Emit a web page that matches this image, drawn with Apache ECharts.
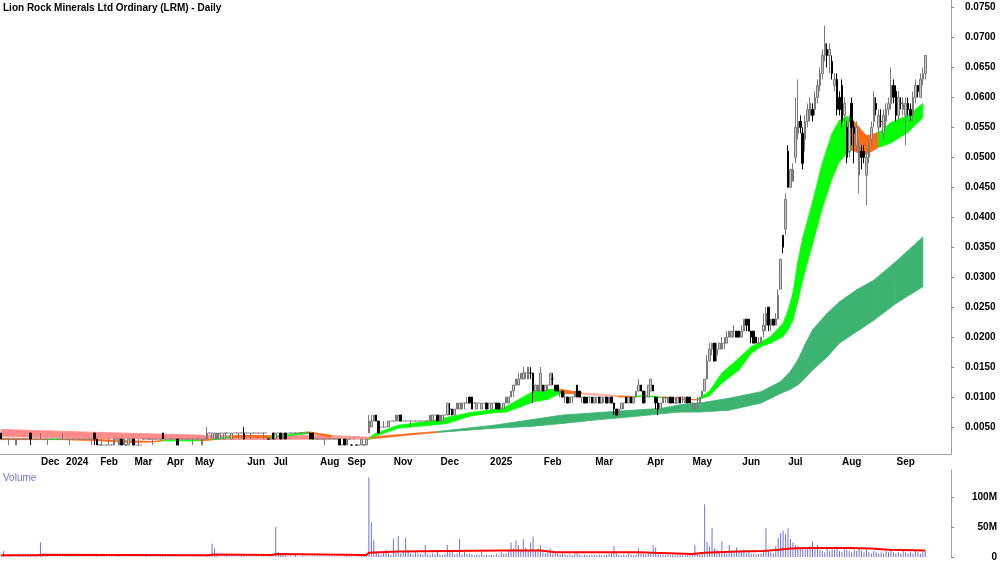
<!DOCTYPE html>
<html>
<head>
<meta charset="utf-8">
<script src="https://cdn.jsdelivr.net/npm/echarts@6/dist/echarts.min.js"></script>
<style>
html, body { margin: 0; padding: 0; background: #fff; }
#chart { width: 1000px; height: 562px; }
</style>
</head>
<body>
<div id="chart"></div>
<script>
// month labels and the candle index where each month starts
var monthLabels = ['Dec', '2024', 'Feb', 'Mar', 'Apr', 'May', 'Jun', 'Jul', 'Aug', 'Sep',
                   'Nov', 'Dec', '2025', 'Feb', 'Mar', 'Apr', 'May', 'Jun', 'Jul', 'Aug', 'Sep'];
var monthStarts = [20, 31, 44, 58, 71, 83, 104, 114, 134, 145, 164, 183, 204, 225, 246, 267, 286, 306, 324, 347, 369];
var emptySlots = 10;

var priceTicks = [0.005, 0.010, 0.015, 0.020, 0.025, 0.030, 0.035, 0.040, 0.045, 0.050, 0.055, 0.060, 0.065, 0.070, 0.075];
var volumeTicks = [0, 50e6, 100e6];

// daily prices in tenths of a cent
var openP = [
  4,3,3,3,3,3,2,3,3,3, 3,3,4,3,3,3,3,3,3,3, 3,3,3,3,3,3,3,3,3,3, 3,3,3,3,3,3,3,3,4,3,
  2,2,2,2,2,2,2,3,2,3, 2,2,2,3,3,2,2,2,3,3, 3,3,3,3,3,3,4,3,3,3, 3,3,3,3,3,3,3,3,3,3,
  3,3,2,3,3,4,4,3,3,3, 4,3,4,4,3,4,4,4,4,4, 4,4,4,4,4,4,4,4,4,3, 3,4,3,4,4,3,4,4,4,4,
  4,4,4,4,4,4,4,4,3,3, 3,3,3,3,3,3,3,3,3,2, 3,2,3,2,3,2,2,2,2,2,
  4,5,6,7,6,5,5,5,5,6, 6,6,6,7,6,6,6,6,6,6, 6,6,6,6,6,6,6,7,7,6, 6,7,7,8,8,7,8,8,8,9,
  9,10,10,9,8,9,8,9,9,9, 8,9,9,9,8,8,9,9,10,11, 12,12,13,13,14,13,14,14,11,11,
  11,12,11,12,12,13,12,12,11,11, 10,10,9,10,10,12,11,10,10,10, 10,10,9,10,10,9,10,10,9,10,
  9,8,7,8,9,10,9,10,9,10, 11,12,11,10,10,11,12,10,9,8, 9,10,9,10,10,9,9,10,10,9,
  10,10,9,8,9,9,10,11,13,16, 18,19,17,18,18,19,19,20,20,21, 21,21,20,21,23,23,21,21,20,19,
  19,21,22,25,22,23,22,23,28,37, 38,51,45,46,50,54,56,54,53,56, 57,58,58,60,62,64,67,68,67,66,
  62,63,60,62,57,55,51,59,55,52, 47,51,51,47,50,53,56,59,55,56, 54,56,58,59,62,61,57,59,58,57,
  59,58,57,60,62,60,63,64
];
var closeP = [
  3,3,3,3,3,3,3,3,3,3, 3,3,3,3,3,3,3,3,3,3, 3,3,3,3,3,3,3,3,3,3, 3,3,3,3,3,3,3,3,3,2,
  2,2,2,2,2,2,3,3,3,2, 3,2,3,3,2,2,2,2,3,3, 3,3,3,3,3,3,3,3,3,3, 3,3,2,3,3,3,3,3,3,3,
  3,3,3,3,4,4,4,4,4,4, 4,4,4,4,4,4,4,4,4,3, 4,4,4,4,4,4,4,4,4,3, 3,3,4,4,3,4,3,4,4,4,
  4,4,4,4,4,4,3,3,3,3, 3,3,3,3,3,3,3,3,2,2, 2,3,3,2,3,2,2,3,2,3,
  6,6,7,6,4,5,5,5,6,6, 6,7,7,6,6,6,6,6,6,6, 6,6,6,6,6,7,7,7,6,7, 7,7,9,8,7,8,9,9,9,9,
  9,9,8,9,9,9,9,9,8,9, 9,9,8,8,8,9,10,10,11,12, 13,13,14,14,14,15,14,11,12,12,
  14,11,12,12,14,13,11,11,11,10, 10,9,10,10,11,10,10,10,9,9, 10,9,10,10,9,10,10,9,10,9,
  8,7,8,9,9,9,10,9,10,11, 12,11,9,10,12,13,11,9,8,9, 10,10,10,9,9,9,10,9,10,10,
  9,9,9,9,9,10,11,13,16,18, 19,16,18,19,19,19,20,21,21,21, 20,20,21,23,22,21,20,19,19,19,
  20,22,24,22,23,22,23,27,33,35, 43,45,48,48,55,56,55,49,56,58, 59,57,60,62,64,67,69,67,68,64,
  63,58,58,56,59,50,56,55,54,55, 52,50,50,50,52,55,60,58,57,56, 57,58,59,62,60,57,60,59,59,59,
  58,57,60,62,61,63,64,67
];
var lowP = [
  3,3,3,2,3,3,2,3,3,3, 3,3,2,3,3,3,3,3,3,2, 3,3,3,3,3,3,3,3,2,3, 3,3,3,3,3,3,3,2,2,2,
  2,2,2,2,2,2,2,3,2,2, 2,2,2,3,2,2,2,2,3,3, 3,3,2,3,3,3,3,3,3,3, 3,3,2,3,3,3,3,3,2,3,
  3,3,2,3,3,4,3,3,3,3, 4,3,4,4,3,4,4,3,4,3, 4,4,3,4,4,4,4,3,4,3, 3,3,3,4,3,3,3,4,4,4,
  4,4,4,4,4,4,3,3,3,3, 3,3,2,3,3,3,3,3,2,2, 2,2,3,2,3,2,2,2,2,2,
  4,5,6,6,4,5,5,5,5,6, 6,6,6,6,6,6,6,5,6,6, 6,6,6,6,6,6,6,7,6,6, 6,7,7,7,7,7,8,8,8,8,
  9,9,8,9,8,9,8,9,8,8, 8,9,8,8,8,8,9,9,10,10, 12,12,13,13,13,13,13,9,11,11,
  11,11,11,11,12,12,11,11,10,10, 9,9,9,9,10,10,10,9,9,9, 9,9,9,9,9,9,9,9,9,9,
  7,7,7,8,8,9,9,9,9,10, 11,11,9,9,10,11,11,8,7,8, 9,9,9,9,9,9,9,9,9,9,
  9,9,8,8,8,9,10,11,13,16, 17,16,16,18,18,18,19,20,20,20, 20,20,20,21,21,21,19,19,19,19,
  19,20,21,21,21,22,22,23,28,34, 37,45,45,46,49,53,54,48,51,55, 56,56,57,59,61,63,66,65,64,63,
  61,57,57,55,56,49,50,52,49,51, 44,48,49,42,49,52,55,57,54,55, 53,55,57,58,59,56,56,58,57,52,
  57,56,56,59,60,60,62,63
];
var highP = [
  4,3,3,3,3,3,3,3,3,3, 3,3,4,3,3,3,4,3,3,3, 3,3,3,3,3,4,3,3,3,3, 3,3,3,3,3,3,3,3,4,3,
  2,3,2,2,3,2,3,3,3,3, 3,2,3,3,3,2,3,2,3,3, 3,3,3,3,3,3,4,3,3,3, 3,3,3,3,3,3,3,3,3,3,
  3,3,3,3,5,4,4,4,4,4, 4,4,4,4,4,4,4,4,4,5, 4,4,4,4,4,4,4,4,4,3, 3,4,4,4,4,4,4,4,4,4,
  4,4,4,4,4,4,4,4,3,3, 3,3,3,3,3,3,3,3,3,2, 3,3,3,2,3,2,2,3,2,3,
  7,7,7,7,6,5,6,5,6,6, 6,7,7,7,6,6,6,6,6,6, 6,6,6,6,6,7,7,7,7,7, 7,7,9,9,8,8,9,9,9,9,
  10,10,10,9,9,9,9,9,9,9, 9,9,9,9,9,9,10,10,11,12, 13,14,14,15,14,15,15,14,12,12,
  15,12,12,12,14,14,12,12,11,11, 11,10,10,10,11,12,11,10,10,10, 10,10,10,10,10,10,10,10,10,10,
  9,8,8,9,9,10,10,10,10,11, 13,12,11,11,12,13,12,10,10,9, 10,10,10,10,10,10,10,10,10,10,
  10,10,9,9,10,10,11,13,17,19, 19,19,19,19,20,20,21,21,21,22, 21,21,22,23,23,23,21,21,20,20,
  20,24,25,25,23,23,24,28,33,37, 44,52,48,49,60,63,57,55,57,59, 60,59,61,63,65,68,72,69,69,67,
  64,64,61,63,60,56,57,60,56,56, 53,52,52,51,53,56,61,60,58,58, 58,59,60,65,63,62,61,60,60,60,
  60,59,61,63,62,64,65,67
];

// daily volume, millions of shares
var volume = [
  2,10,1,1,2,1,1,2,1,1, 1,1,2,1,1,1,24,2,1,1, 1,1,1,1,1,1,1,1,1,1, 1,1,1,1,1,1,1,1,1,2,
  1,1,1,1,1,1,1,1,2,1, 1,1,1,1,1,1,1,1,1,3, 1,1,1,1,1,1,2,1,1,1, 1,1,1,1,1,1,1,1,1,1,
  1,1,1,1,2,1,22,14,6,1, 1,1,2,1,1,1,1,1,2,3, 1,1,1,1,1,1,1,1,1,1, 1,1,50,8,3,6,2,1,1,1,
  4,1,1,2,1,1,1,1,1,1, 1,1,1,1,1,1,1,1,1,1, 1,2,1,1,1,1,1,4,2,6,
  133,58,28,10,6,4,8,12,6,4, 30,8,35,6,8,32,12,6,4,8, 6,5,4,20,4,4,6,4,8,4, 3,5,20,8,12,4,6,30,4,8,
  5,6,4,3,4,3,8,3,4,3, 4,3,6,3,8,5,6,10,24,14, 28,20,12,30,16,12,24,34,10,14,
  20,8,6,8,14,6,8,5,4,6, 4,3,4,3,6,10,4,3,4,3, 3,4,3,3,4,3,3,4,5,8,
  18,6,4,3,4,3,6,4,3,4, 14,6,5,4,6,8,20,16,6,4, 4,3,4,3,4,3,3,4,3,3,
  3,4,3,20,6,4,8,88,25,18, 48,14,12,10,26,8,6,20,10,8, 16,10,8,12,6,8,5,6,4,5,
  6,8,48,10,8,6,18,32,40,44, 38,48,30,24,20,18,14,16,12,14, 18,26,14,20,12,10,8,14,10,12,
  12,18,10,8,14,12,10,8,12,10, 14,10,8,12,8,6,10,8,6,8, 6,10,8,12,8,6,8,6,10,8,
  6,8,6,10,8,6,8,10
];

// volume average line: [candle index, millions]
var volumeAvg = [
  [0, 3], [15, 3], [16, 3.8], [85, 3], [86, 4], [111, 3.5], [112, 5], [149, 3.5], [150, 7],
  [162, 9], [183, 10], [204, 11], [220, 11], [226, 8], [260, 8], [266, 7], [282, 5], [287, 7],
  [300, 9], [311, 10], [317, 12], [322, 14], [330, 15], [345, 15], [355, 14], [362, 12], [377, 11]
];

// trend ribbons: [candle index, upper, lower (tenths of a cent), trend 1 up / -1 down / 0 weak]
var shortRibbon = [
  [0, 3.1, 2.9, -1], [12, 3.0, 2.9, -1], [19, 3.0, 2.9, 1], [24, 3.0, 2.9, -1], [40, 2.9, 2.7, -1],
  [53, 2.7, 2.4, -1], [62, 2.6, 2.5, -1], [66, 2.8, 2.7, 1], [81, 2.8, 2.7, -1], [86, 2.95, 2.85, 1],
  [93, 3.4, 3.2, -1], [96, 3.6, 3.3, -1], [102, 3.6, 3.3, -1], [110, 3.5, 3.2, 1], [113, 3.55, 3.45, 1],
  [118, 3.8, 3.6, 1], [125, 4.2, 3.9, -1], [127, 4.1, 3.9, -1], [135, 3.6, 3.3, 0], [142, 3.2, 3.0, 0],
  [150, 3.0, 2.9, 1], [152, 3.8, 3.4, 1], [162, 5.3, 4.8, 1], [175, 6.0, 5.3, 1], [182, 6.6, 5.6, 1],
  [191, 7.4, 6.8, 1], [199, 7.8, 7.3, 1], [206, 8.4, 7.5, 1], [212, 9.8, 8.4, 1], [217, 10.9, 9.2, 1],
  [223, 11.3, 9.6, 1], [228, 11.3, 10.6, -1], [237, 10.7, 10.5, 0], [244, 10.5, 10.3, 0], [252, 10.2, 10.0, -1],
  [258, 10.1, 10.0, 1], [262, 10.3, 10.2, 1], [269, 10.0, 9.9, -1], [277, 9.7, 9.6, -1], [284, 9.6, 9.5, 1],
  [289, 11.0, 10.2, 1], [294, 14.0, 12.3, 1], [301, 16.5, 14.5, 1], [306, 18.4, 17.3, 1], [310, 19.2, 18.4, 1],
  [314, 20.1, 19.0, 1], [319, 22.3, 20.1, 1], [321, 24.4, 21.2, 1], [323, 27.3, 22.8, 1], [325, 32.5, 26.0, 1],
  [327, 36.5, 29.5, 1], [331, 42.5, 35.5, 1], [335, 49.0, 41.5, 1], [339, 54.0, 46.5, 1], [342, 56.2, 49.3, 1],
  [345, 56.8, 50.6, 1], [347, 56.5, 51.2, -1], [350, 55.0, 50.7, -1], [353, 53.6, 50.5, -1], [356, 53.9, 51.2, -1],
  [358, 54.2, 51.7, 1], [359, 54.4, 51.8, 1], [363, 55.8, 52.4, 1], [370, 57.0, 54.2, 1], [376, 59.0, 56.6, 1]
];
var longRibbon = [
  [0, 4.6, 3.4, 0], [40, 4.1, 3.1, 0], [86, 3.6, 2.9, 0], [136, 3.55, 3.0, 0], [150, 3.3, 3.0, -1],
  [170, 4.0, 3.8, -1], [178, 4.25, 4.1, 1], [201, 5.3, 4.8, 1], [216, 6.2, 5.1, 1], [229, 7.0, 5.6, 1],
  [243, 7.4, 6.2, 1], [257, 7.8, 6.7, 1], [269, 8.1, 7.2, 1], [277, 8.7, 7.5, 1], [285, 9.0, 7.5, 1],
  [297, 9.8, 7.8, 1], [310, 10.9, 9.0, 1], [318, 12.6, 10.6, 1], [322, 14.3, 11.3, 1], [325, 16.2, 12.0, 1],
  [328, 18.8, 13.2, 1], [331, 21.2, 14.5, 1], [337, 24.0, 16.7, 1], [342, 25.9, 19.0, 1], [349, 27.9, 20.9, 1],
  [356, 29.5, 22.8, 1], [365, 32.6, 25.6, 1], [376, 36.7, 28.4, 1]
];

var n = openP.length;
var cats = [];
for (var i = 0; i < n + emptySlots; i++) cats.push(String(i));
var labelAt = {};
monthStarts.forEach(function (s, k) { labelAt[s] = monthLabels[k]; });
var isMonthStart = function (index) { return labelAt[index] !== undefined; };

var candles = [];
for (var i = 0; i < n; i++) {
  candles.push([openP[i] / 1000, closeP[i] / 1000, lowP[i] / 1000, highP[i] / 1000]);
}

var ribbonPieces = function (rows) {
  var res = [];
  for (var k = 0; k < rows.length - 1; k++) {
    var a = rows[k], b = rows[k + 1];
    res.push([a[0], a[1] / 1000, a[2] / 1000, b[0], b[1] / 1000, b[2] / 1000, a[3]]);
  }
  return res;
};

var ribbonRenderer = function (colors) {
  return function (params, api) {
    var p1 = api.coord([api.value(0), api.value(1)]);
    var p2 = api.coord([api.value(3), api.value(4)]);
    var p3 = api.coord([api.value(3), api.value(5)]);
    var p4 = api.coord([api.value(0), api.value(2)]);
    var col = colors[api.value(6)];
    return {
      type: 'polygon',
      shape: { points: [p1, p2, p3, p4] },
      style: { fill: col, stroke: col, lineWidth: 0.8 }
    };
  };
};

var font = 'Liberation Sans, Arial, sans-serif';
var chart = echarts.init(document.getElementById('chart'));

var option = {
  animation: false,
  textStyle: { fontFamily: font },
  title: {
    text: 'Lion Rock Minerals Ltd Ordinary (LRM) - Daily',
    left: 3, top: 3, padding: 0,
    textStyle: { fontSize: 10, fontWeight: 'bold', color: '#000', fontFamily: font }
  },
  graphic: [{
    type: 'text', left: 3, top: 473,
    style: { text: 'Volume', fill: '#7373c8', font: '10px ' + font }
  }],
  grid: [
    { left: 0, right: 49, top: 0, height: 454 },
    { left: 0, right: 49, top: 470, height: 87 }
  ],
  xAxis: [{
    type: 'category', gridIndex: 0, data: cats, boundaryGap: true,
    axisLine: { lineStyle: { color: '#a0a0a0' } },
    axisTick: { interval: isMonthStart, alignWithLabel: true, length: 3, lineStyle: { color: '#808080' } },
    axisLabel: {
      interval: isMonthStart, margin: 3,
      formatter: function (v) { return labelAt[+v] || ''; },
      fontSize: 10, fontWeight: 'bold', color: '#000'
    },
    splitLine: { show: false }
  }, {
    type: 'category', gridIndex: 1, data: cats, boundaryGap: true,
    axisLine: { show: false }, axisTick: { show: false }, axisLabel: { show: false },
    splitLine: { show: false }
  }],
  yAxis: [{
    type: 'value', gridIndex: 0, position: 'right', min: 0.0005, max: 0.07625,
    axisLine: { show: true, lineStyle: { color: '#a0a0a0' } },
    axisTick: { show: true, length: 3, customValues: priceTicks, lineStyle: { color: '#808080' } },
    axisLabel: {
      customValues: priceTicks, margin: 14,
      formatter: function (v) { return v.toFixed(4); },
      fontSize: 10, fontWeight: 'bold', color: '#000'
    },
    splitLine: { show: false }
  }, {
    type: 'value', gridIndex: 1, position: 'right', min: 0, max: 145e6,
    axisLine: { show: true, lineStyle: { color: '#a0a0a0' } },
    axisTick: { show: true, length: 3, customValues: volumeTicks, lineStyle: { color: '#808080' } },
    axisLabel: {
      customValues: volumeTicks, margin: 46, align: 'right',
      formatter: function (v) { return v === 0 ? '0' : (v / 1e6) + 'M'; },
      fontSize: 10, fontWeight: 'bold', color: '#000'
    },
    splitLine: { show: false }
  }],
  series: [{
    type: 'custom', name: 'long ribbon', xAxisIndex: 0, yAxisIndex: 0,
    renderItem: ribbonRenderer({ 1: '#3cb371', '-1': '#ff6a20', 0: '#ff8a8a' }),
    encode: { x: 0, y: 1 }, data: ribbonPieces(longRibbon), z: 1, silent: true
  }, {
    type: 'custom', name: 'short ribbon', xAxisIndex: 0, yAxisIndex: 0,
    renderItem: ribbonRenderer({ 1: '#00ff00', '-1': '#ff6a13', 0: '#ffaaa0' }),
    encode: { x: 0, y: 1 }, data: ribbonPieces(shortRibbon), z: 2, silent: true
  }, {
    type: 'candlestick', name: 'LRM', xAxisIndex: 0, yAxisIndex: 0,
    data: candles, barWidth: 2, z: 5,
    itemStyle: {
      color: '#c8c8c8', color0: '#000000',
      borderColor: '#7a7a7a', borderColor0: '#000000', borderWidth: 1
    }
  }, {
    type: 'bar', name: 'Volume', xAxisIndex: 1, yAxisIndex: 1,
    data: volume.map(function (v) { return v * 1e6; }),
    barWidth: 1, itemStyle: { color: '#7070d8' }
  }, {
    type: 'line', name: 'Volume average', xAxisIndex: 1, yAxisIndex: 1,
    data: volumeAvg.map(function (p) { return [p[0], p[1] * 1e6]; }),
    symbol: 'none', lineStyle: { color: '#ff0000', width: 2 }, z: 4
  }]
};

chart.setOption(option);
</script>
</body>
</html>
